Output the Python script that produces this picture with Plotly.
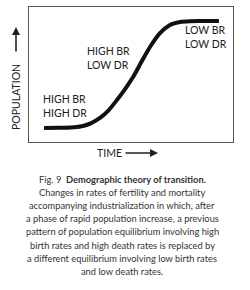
import plotly.graph_objects as go

# curve data (arbitrary units: time 0-100, population 0-100)
time_vals = [7.4, 15, 22, 26.5, 30.5, 34.8, 39, 43.1, 47, 51.0, 55, 59.3, 64.2, 69.1, 74.0, 79, 83.8, 93.1]
pop_vals = [10.4, 10.5, 11.0, 11.9, 14.0, 17.8, 23.5, 31.1, 39.0, 48.1, 59.0, 70.4, 80.7, 86.7, 88.9, 89.5, 89.6, 89.6]

stage_labels = ["HIGH BR<br>HIGH DR", "HIGH BR<br>LOW DR", "LOW BR<br>LOW DR"]
stage_x = [6.0, 27.5, 75.5]
stage_y = [27.0, 62.0, 78.0]

caption_lines = ["Fig. 9  <b>Demographic theory of transition.</b>",
                 "Changes in rates of fertility and mortality",
                 "accompanying industrialization in which, after",
                 "a phase of rapid population increase, a previous",
                 "pattern of population equilibrium involving high",
                 "birth rates and high death rates is replaced by",
                 "a different equilibrium involving low birth rates",
                 "and low death rates."]

FONT = "Lato"
fig = go.Figure()
fig.add_trace(go.Scatter(x=time_vals, y=pop_vals, mode="lines",
                         line=dict(color="#111111", width=4, shape="spline", smoothing=0.8),
                         hoverinfo="skip"))

L, R, T, B = 29, 233, 7, 142
W, H = 250, 290
pw, ph = R - L, B - T

def px(x):
    return (x - L) / pw

def py(y):
    return (B - y) / ph

for lab, x, y in zip(stage_labels, stage_x, stage_y):
    fig.add_annotation(x=x, y=y, xref="x", yref="y", text=lab, showarrow=False,
                       xanchor="left", yanchor="middle", align="left",
                       font=dict(family=FONT, size=10.5, color="#222222"))

# axis titles
fig.add_annotation(x=px(16), y=py(97), xref="paper", yref="paper", text="POPULATION",
                   textangle=-90, showarrow=False, xanchor="center", yanchor="middle",
                   font=dict(family=FONT, size=10.5, color="#222222"))
fig.add_annotation(x=px(16), y=py(27), xref="paper", yref="paper", ax=0, ay=26,
                   text="", showarrow=True,
                   arrowhead=2, arrowsize=1, arrowwidth=1.6, arrowcolor="#222222")
fig.add_annotation(x=px(109), y=py(153), xref="paper", yref="paper", text="TIME",
                   showarrow=False, xanchor="center", yanchor="middle",
                   font=dict(family=FONT, size=10.5, color="#222222"))
fig.add_annotation(x=px(158), y=py(153), xref="paper", yref="paper", ax=-34, ay=0,
                   text="", showarrow=True,
                   arrowhead=2, arrowsize=1, arrowwidth=1.6, arrowcolor="#222222")

for i, line in enumerate(caption_lines):
    fig.add_annotation(x=px(122), y=py(179 + i * 13.2), xref="paper", yref="paper", text=line,
                       showarrow=False, xanchor="center", yanchor="middle", align="center",
                       font=dict(family=FONT, size=9.3, color="#333333"))

fig.update_xaxes(range=[0, 100], showgrid=False, zeroline=False, showticklabels=False,
                 ticks="", showline=True, mirror=True, linecolor="#555555", linewidth=1.2)
fig.update_yaxes(range=[0, 100], showgrid=False, zeroline=False, showticklabels=False,
                 ticks="", showline=True, mirror=True, linecolor="#555555", linewidth=1.2)
fig.update_layout(width=W, height=H, margin=dict(l=L, r=W - R, t=T, b=H - B),
                  paper_bgcolor="white", plot_bgcolor="white", showlegend=False)

fig.write_html("out.html")
